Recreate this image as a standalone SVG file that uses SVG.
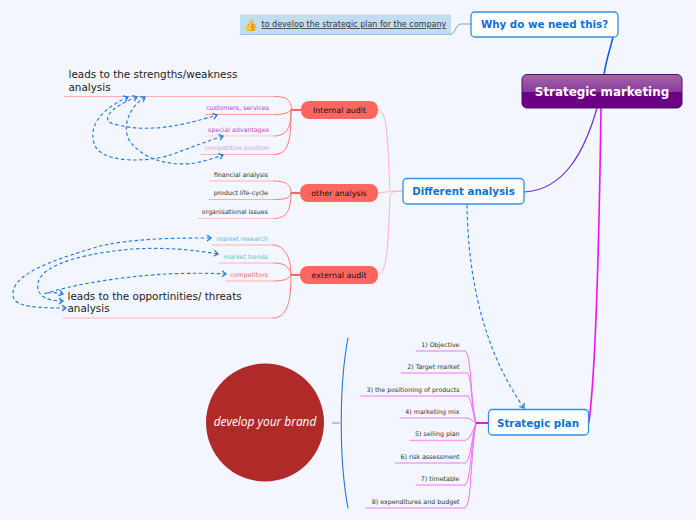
<svg xmlns="http://www.w3.org/2000/svg" width="696" height="520" viewBox="0 0 696 520">
<style>
text{font-family:"DejaVu Sans","Liberation Sans",sans-serif;fill:#333}
.s{font-size:6.3px;text-anchor:end}
.a{font-size:7.9px;text-anchor:middle;fill:#111}
.big{font-size:10.4px;fill:#222}
.m{font-size:10.3px;font-weight:bold;fill:#0a72d8;text-anchor:middle}
.pill{fill:#ff6660}
.box{fill:#fff;stroke:#2f8fee;stroke-width:1.3}
.c{fill:none;stroke-linecap:round}
.r{stroke:#ff7a72;stroke-width:1}
.ul{stroke:#ffb0ae;stroke-width:1.2}
.p{stroke:#f070f8;stroke-width:1}
.pu{stroke:#f4a0f8;stroke-width:1.3}
.d{fill:none;stroke:#1f7fe8;stroke-width:1.15;stroke-dasharray:3.500 2.500;marker-end:url(#ah)}
.b{marker-start:url(#ah)}
</style>
<defs>
<linearGradient id="g" x1="0" y1="0" x2="0" y2="1"><stop offset="0" stop-color="#a565ae"/><stop offset=".52" stop-color="#8a3b99"/><stop offset=".53" stop-color="#6b0085"/><stop offset="1" stop-color="#6b0085"/></linearGradient>
<marker id="ah" markerUnits="userSpaceOnUse" markerWidth="7" markerHeight="8" refX="5" refY="3.500" orient="auto-start-reverse"><path d="M1 .5L5 3.500L1 6.500" fill="none" stroke="#1f7fe8" stroke-width="1.3"/></marker>
</defs>
<rect width="696" height="520" fill="#f4f6ff"/>
<g id="connectors">
<path class="c" d="M604 75C606 60 610 50 613 37" stroke="#1a5cf0" stroke-width="1.6"/>
<path class="c" d="M524 192C565 190 585 150 597 108" stroke="#6a2cf0" stroke-width="1.2"/>
<path class="c" d="M589 422C597 360 600 180 601 108" stroke="#f010f0" stroke-width="1.6"/>
<path class="c" d="M471 24H461C455 24 456 34 450 34.500H240" stroke="#6aa8ec" stroke-width="1"/>
<g stroke="#ffaaa8" fill="none" stroke-width=".9">
<path d="M378 110C387 112 387 130 390 190C391 192 393 191 402 191"/>
<path d="M378 193L390 191.500"/>
<path d="M378 274C387 272 388 250 390 196C391 192 393 191 402 191"/>
</g>
<g class="c r">
<path d="M301 110H292C290 100 288 96.500 274 96.500"/>
<path d="M291 110C288 113 284 114.500 274 114.500"/>
<path d="M291 110C291 126 288 136 274 136"/>
<path d="M291 110C291 140 289 154.500 274 154.500"/>
<path d="M291 193C291 186 288 181 274 181"/>
<path d="M291 193C290 198 286 199.500 274 199.500"/>
<path d="M291 193C291 208 288 218.500 274 218.500"/>
<path d="M291 275C291 260 286 245 273 245"/>
<path d="M291 275C290 268 286 263 274 263"/>
<path d="M291 275C289 279 284 281 274 281"/>
<path d="M291 275C291 300 288 318 273 318"/>
</g>
<path d="M301 110H291M300 193H291M300 275H291" stroke="#ff6660" stroke-width="2" fill="none"/>
<g class="c ul">
<path d="M64 96.500H274"/><path d="M206 114.500H274" stroke="#ff9ea0"/><path d="M205 136H274" stroke="#ffc8cc"/><path d="M201 154.500H274" stroke="#ffb0b0"/>
<path d="M210 181H274"/><path d="M209 199.500H274"/><path d="M198 218.500H274" stroke="#ffc0c0"/>
<path d="M212 245H274"/><path d="M219 263H274"/><path d="M226 281H274"/><path d="M63 318H274"/>
</g>
<g class="c p">
<path d="M465 351C472 353 470 400 476 423"/>
<path d="M467 373C472 376 471 405 476 423"/>
<path d="M468 396C472 400 472 412 476 423"/>
<path d="M467 418C471 419 473 421 476 423"/>
<path d="M465 440.500C471 439 473 430 476 423"/>
<path d="M465 463C471 460 471 440 476 423"/>
<path d="M465 485C471 482 470 450 476 423"/>
<path d="M465 508C472 505 470 460 476 423"/>
</g>
<path d="M476 423H488" stroke="#f010e8" stroke-width="2" fill="none"/>
<g class="c pu">
<path d="M416 351H465"/><path d="M401 373H467"/><path d="M361 396H468"/><path d="M400 418H467"/><path d="M410 440.500H465"/><path d="M395 463H465"/><path d="M416 485H465"/><path d="M366 508H465"/>
</g>
<path class="c" d="M348 338C339 385 339 460 348 508" stroke="#1a78e0" stroke-width="1.1"/>
<path d="M332 423H340" stroke="#6aa8ec" stroke-width="1.2"/>
<path class="d" d="M467 205C468 270 480 345 524 408"/>
<path class="d b" d="M137 97C108 108 98 122 118 125C150 133 185 125 217 115"/>
<path class="d b" d="M128 97C100 110 90 125 93.500 141C97 165 150 162 170 155C190 148 205 142 223 136"/>
<path class="d b" d="M145 97C125 110 120 135 135 147C150 162 175 166 195 163C205 161 215 158 223 155"/>
<path class="d b" d="M66 308C25 308 12 305 13 293C14 272 60 258 100 246C135 238 180 238 211 238"/>
<path class="d b" d="M63 301C45 301 36 295 38 283C42 262 95 252 133 249C165 247 195 250 218 254"/>
<path class="d b" d="M63 294C48 290 38 296 50 292C85 282 130 276 167 274C190 273 210 273 226 274"/>
</g>
<g id="root"><rect x="522" y="74.500" width="160" height="33.500" rx="5" fill="url(#g)" stroke="#4f0a63"/><text x="602" y="96" font-size="11.900" font-weight="bold" text-anchor="middle" style="fill:#fff">Strategic marketing</text></g>
<g id="why"><rect class="box" x="471" y="12" width="147" height="25" rx="4"/><text class="m" x="544.500" y="28">Why do we need this?</text></g>
<g id="why-note"><rect x="240" y="14.500" width="211" height="20" fill="#c2dcf0" rx="1"/><text x="251" y="29" font-size="11" text-anchor="middle">👍</text><text x="261.500" y="27" font-size="8.030" text-decoration="underline">to develop the strategic plan for the company</text></g>
<g id="different"><rect class="box" x="403" y="178.500" width="121" height="25.500" rx="4"/><text class="m" x="463.500" y="195">Different analysis</text></g>
<g id="plan"><rect class="box" x="488.500" y="409.500" width="100" height="25.500" rx="4"/><text class="m" x="538" y="427">Strategic plan</text></g>
<g id="internal"><rect class="pill" x="301" y="101" width="77" height="18" rx="8"/><text class="a" x="339.500" y="113">Internal audit</text></g>
<g id="other"><rect class="pill" x="300" y="184" width="78" height="18" rx="8"/><text class="a" x="339" y="196">other analysis</text></g>
<g id="external"><rect class="pill" x="300" y="266" width="78" height="18" rx="8"/><text class="a" x="339" y="278">external audit</text></g>
<g id="brand"><circle cx="265" cy="422.500" r="59" fill="#b12a2a"/><text x="265" y="426" font-size="11.900" text-anchor="middle" font-style="italic" style="fill:#fff;font-family:'Open Sans',sans-serif">develop your brand</text></g>
<g id="leaf-sw"><text class="big" x="68.500" y="78">leads to the strengths/weakness</text><text class="big" x="68.500" y="91">analysis</text></g>
<g id="leaf-ot"><text class="big" x="67.500" y="300">leads to the opportinities/ threats</text><text class="big" x="67.500" y="312">analysis</text></g>
<g id="leaves">
<text class="s" x="269" y="110" style="fill:#a83cf0">customers, services</text>
<text class="s" x="269" y="132" style="fill:#d83cc8">special advantages</text>
<text class="s" x="269" y="150" style="fill:#d09ad8">competitive position</text>
<text class="s" x="268" y="177">financial analysis</text>
<text class="s" x="268" y="195">product life-cycle</text>
<text class="s" x="268" y="214">organisational issues</text>
<text class="s" x="268" y="241" style="fill:#5ab4f0">market research</text>
<text class="s" x="268" y="259" style="fill:#5cc8b0">market trends</text>
<text class="s" x="268" y="277" style="fill:#ee6a6a">competitors</text>
<text class="s" x="459.500" y="347">1) Objective</text>
<text class="s" x="459.500" y="369">2) Target market</text>
<text class="s" x="459.500" y="392">3) the positioning of products</text>
<text class="s" x="459.500" y="414">4) marketing mix</text>
<text class="s" x="459.500" y="436">5) selling plan</text>
<text class="s" x="459.500" y="459">6) risk assessment</text>
<text class="s" x="459.500" y="481">7) timetable</text>
<text class="s" x="459.500" y="504">8) expenditures and budget</text>
</g>
</svg>
